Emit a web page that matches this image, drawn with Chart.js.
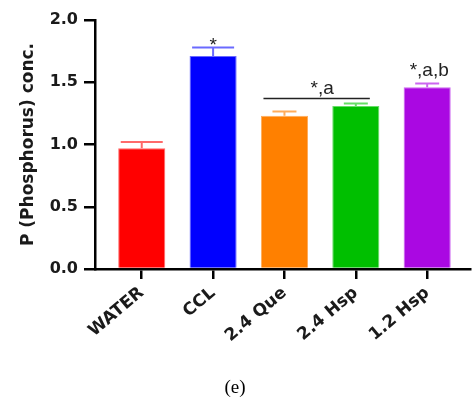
<!DOCTYPE html>
<html>
<head>
<meta charset="utf-8">
<script src="https://cdn.jsdelivr.net/npm/chart.js@4"></script>
<style>
  html, body { margin: 0; padding: 0; background: #fff; }
  #wrap { width: 475px; height: 402px; }
</style>
</head>
<body>
<div id="wrap"><canvas id="myBar" width="475" height="402"></canvas></div>
<script>
var categories = ["WATER", "CCL", "2.4 Que", "2.4 Hsp", "1.2 Hsp"];
var means = [0.97, 1.71, 1.23, 1.31, 1.46];
var errors = [0.05, 0.07, 0.035, 0.02, 0.03];
var yTicks = [0, 0.5, 1.0, 1.5, 2.0];
var barColors = ["#ff0000", "#0000ff", "#ff8000", "#00bf00", "#aa08e2"];
var errColors = ["#ff6a6a", "#6a6aff", "#ffad5c", "#66dd66", "#cc66f0"];
// significance marks: from/to category index, text
var sigFrom = [1, 2, 4];
var sigTo = [1, 3, 4];
var sigText = ["*", "*,a", "*,a,b"];

var barPosition = document.getElementById('myBar').getContext('2d');

var errorBars = {
    id: 'errorBars',
    afterDatasetsDraw: (chart) => {
        var ctx = chart.ctx;
        var meta = chart.getDatasetMeta(0);
        var ys = chart.scales.y;
        ctx.save();
        meta.data.forEach((bar, i) => {
            var top = ys.getPixelForValue(means[i] + errors[i]);
            var capW = i < 2 ? 42 : 24;
            ctx.strokeStyle = errColors[i];
            ctx.lineWidth = 2;
            ctx.beginPath();
            ctx.moveTo(bar.x, bar.y);
            ctx.lineTo(bar.x, top);
            ctx.moveTo(bar.x - capW / 2, top);
            ctx.lineTo(bar.x + capW / 2, top);
            ctx.stroke();
        });
        ctx.restore();
    }
};

var sigMarks = {
    id: 'sigMarks',
    afterDatasetsDraw: (chart) => {
        var ctx = chart.ctx;
        var xs = chart.scales.x;
        var ys = chart.scales.y;
        ctx.save();
        ctx.fillStyle = '#222';
        ctx.strokeStyle = '#222';
        ctx.font = '19px "Liberation Sans", Arial, sans-serif';
        ctx.textAlign = 'center';
        ctx.textBaseline = 'alphabetic';
        sigText.forEach((txt, k) => {
            var a = sigFrom[k], b = sigTo[k];
            var topVal = 0;
            for (var i = a; i <= b; i++) topVal = Math.max(topVal, means[i] + errors[i]);
            var yTop = ys.getPixelForValue(topVal);
            var xc = (xs.getPixelForValue(a) + xs.getPixelForValue(b)) / 2;
            if (a !== b) {
                var x1 = xs.getPixelForValue(a) - 21;
                var x2 = xs.getPixelForValue(b) + 14;
                var yl = yTop - 5;
                ctx.lineWidth = 1.5;
                ctx.beginPath();
                ctx.moveTo(x1, yl);
                ctx.lineTo(x2, yl);
                ctx.stroke();
                ctx.fillText(txt, xc + 2, yl - 4);
            } else if (txt.length === 1) {
                ctx.fillText(txt, xc, yTop + 4);
            } else {
                ctx.fillText(txt, xc + 2, yTop - 7);
            }
        });
        ctx.restore();
    }
};

plotGraph = () => {
    new Chart(barPosition, {
        type: 'bar',
        data: {
            datasets: [{
                data: means.map((v, i) => ({ x: i, y: v })),
                backgroundColor: barColors,
                borderColor: errColors,
                borderWidth: 1,
                barPercentage: 0.66,
                categoryPercentage: 1
            }]
        },
        options: {
            responsive: false,
            animation: false,
            layout: { padding: { top: 20, right: 5, left: 0, bottom: 0 } },
            plugins: {
                legend: { display: false },
                tooltip: { enabled: false },
                title: {
                    display: true,
                    position: 'bottom',
                    text: '(e)',
                    color: '#000',
                    font: { family: '"Liberation Serif", "Times New Roman", serif', size: 19, weight: 'normal' },
                    padding: { top: 6, bottom: 3 }
                }
            },
            scales: {
                x: {
                    type: 'linear',
                    offset: false,
                    min: -0.655,
                    max: 4.6,
                    afterBuildTicks: (scale) => {
                        scale.ticks = categories.map((c, i) => ({ value: i }));
                    },
                    afterFit: (scale) => { scale.height = 402 - 269 - 22.8 - 9; },
                    grid: {
                        offset: false,
                        drawOnChartArea: false,
                        color: '#000',
                        lineWidth: 2.5,
                        tickLength: 10,
                        tickWidth: 2.5
                    },
                    border: { color: '#000', width: 2.5 },
                    ticks: {
                        color: '#1a1a1a',
                        font: { family: '"DejaVu Sans", sans-serif', size: 17, weight: 'bold' },
                        maxRotation: 40,
                        minRotation: 40,
                        padding: 4,
                        autoSkip: false,
                        callback: (v) => categories[Math.round(v)]
                    }
                },
                y: {
                    min: 0,
                    max: 2,
                    afterBuildTicks: (scale) => {
                        scale.ticks = yTicks.map((v) => ({ value: v }));
                    },
                    afterFit: (scale) => { scale.width = 95; },
                    grid: {
                        drawOnChartArea: false,
                        color: '#000',
                        lineWidth: 2.5,
                        tickLength: 11,
                        tickWidth: 2.5
                    },
                    border: { color: '#000', width: 2.5 },
                    ticks: {
                        color: '#1a1a1a',
                        font: { family: '"DejaVu Sans", sans-serif', size: 16, weight: 'bold' },
                        padding: 6,
                        callback: (v) => v.toFixed(1)
                    },
                    title: {
                        display: true,
                        text: 'P (Phosphorus) conc.',
                        color: '#1a1a1a',
                        font: { family: '"DejaVu Sans", sans-serif', size: 17, weight: 'bold' },
                        padding: { top: 18, bottom: 0 }
                    }
                }
            }
        },
        plugins: [errorBars, sigMarks]
    });
}

plotGraph();
</script>
</body>
</html>
